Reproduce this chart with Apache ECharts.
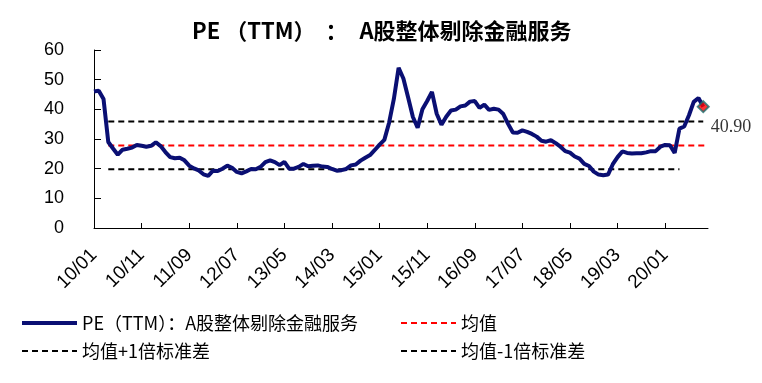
<!DOCTYPE html>
<html>
<head>
<meta charset="utf-8">
<script src="https://cdn.jsdelivr.net/npm/echarts@6/dist/echarts.min.js"></script>
<style>html,body{margin:0;padding:0;background:#fff;}#c{width:762px;height:383px;}</style>
</head>
<body>
<div id="c"></div>
<script>
// Categories: monthly from 2010/01 to 2020/10
const categories = [];
for (let y = 10; y <= 20; y++) {
  for (let m = 1; m <= 12; m++) {
    if (y === 20 && m > 10) break;
    categories.push(String(y).padStart(2, '0') + '/' + String(m).padStart(2, '0'));
  }
}

const peValues = [
  46.0, 46.3, 43.5, 29.0, 26.8, 24.7, 26.4, 26.7, 27.1, 28.0,
  27.7, 27.4, 27.7, 28.9, 27.6, 25.6, 23.9, 23.5, 23.7, 22.8,
  21.0, 20.1, 19.4, 18.1, 17.6, 19.3, 19.2, 20.0, 21.0, 20.3,
  18.9, 18.4, 19.1, 19.9, 19.8, 20.6, 22.2, 22.8, 22.2, 21.2,
  22.3, 20.0, 20.0, 20.6, 21.6, 20.8, 21.0, 21.1, 20.7, 20.6,
  19.9, 19.3, 19.5, 19.9, 21.1, 21.4, 22.7, 23.7, 24.6, 26.3,
  28.1, 29.7, 35.5, 43.5, 54.0, 50.4, 44.0, 37.4, 33.8, 40.0,
  42.8, 45.9, 38.5, 34.8, 37.5, 39.6, 39.9, 41.0, 41.3, 42.6,
  42.8, 40.5, 41.6, 39.8, 40.2, 39.9, 38.4, 35.1, 32.2, 32.1,
  32.9, 32.4, 31.7, 30.8, 29.4, 29.1, 29.6, 28.6, 27.4, 25.9,
  25.4, 24.1, 23.4, 21.6, 20.9, 19.0, 18.0, 17.8, 18.0, 21.5,
  23.9, 25.8, 25.3, 25.1, 25.2, 25.2, 25.5, 25.9, 25.9, 27.4,
  28.0, 27.9, 25.3, 33.5, 34.2, 38.0, 42.5, 43.8, 40.9
];

const meanValue = 27.8;
const upperValue = 35.9;
const lowerValue = 19.8;
// index ranges over which the reference lines are drawn
const meanRange = [3, 129];
const upperRange = [3, 128];
const lowerRange = [3, 123];

const yTicks = [0, 10, 20, 30, 40, 50, 60];

const nameMain = 'PE（TTM）：A股整体剔除金融服务';
const nameMean = '均值';
const nameUpper = '均值+1倍标准差';
const nameLower = '均值-1倍标准差';
const lastLabel = '40.90';
// title pieces (same text as nameMain, split for spacing)
const titleParts = ['PE', '（TTM）', '：', 'A股整体剔除金融服务'];

function flatLine(v, range) {
  return categories.map((c, i) => (i >= range[0] && i <= range[1]) ? v : null);
}
const lastIdx = peValues.length - 1;
const lastPoint = categories.map((c, i) => i === lastIdx ? peValues[lastIdx] : null);

const cjk = '"Noto Sans CJK SC", "Noto Sans", sans-serif';
const latin = '"Liberation Sans", Arial, sans-serif';

const legendCommon = {
  orient: 'vertical', top: 313, padding: 0,
  itemWidth: 55, itemHeight: 14, itemGap: 8,
  itemStyle: {color: 'rgba(0,0,0,0)', borderColor: 'rgba(0,0,0,0)', borderWidth: 0, opacity: 0},
  textStyle: {fontFamily: cjk, fontSize: 18, lineHeight: 20, color: '#000'}
};

const tStyle = {fontFamily: cjk, fontSize: 22, fontWeight: 'bold', color: '#000'};

const chart = echarts.init(document.getElementById('c'), null, {renderer: 'canvas'});
chart.setOption({
  animation: false,
  backgroundColor: '#ffffff',
  title: {
    text: '{a|' + titleParts[0] + '}{b|' + titleParts[1] + '}{c|' + titleParts[2] + '}{a|' + titleParts[3] + '}',
    left: 192, top: 20,
    padding: 0,
    textStyle: Object.assign({
      rich: {
        a: Object.assign({}, tStyle),
        b: Object.assign({padding: [0, 2, 0, 5]}, tStyle),
        c: Object.assign({padding: [0, 12, 0, 8]}, tStyle)
      }
    }, tStyle)
  },
  legend: [
    Object.assign({data: [{name: nameMain, lineStyle: {width: 4}}, nameUpper], left: 20}, legendCommon),
    Object.assign({data: [nameMean, nameLower], left: 400}, legendCommon)
  ],
  grid: {left: 94, right: 54, top: 50, bottom: 155, containLabel: false},
  xAxis: {
    type: 'category',
    data: categories,
    boundaryGap: false,
    axisLine: {lineStyle: {color: '#000', width: 1}},
    axisTick: {show: true, inside: true, length: 5, interval: 9, lineStyle: {color: '#000'}},
    axisLabel: {interval: 9, rotate: 45, margin: 24, fontFamily: latin, fontSize: 19, color: '#000'},
    splitLine: {show: false}
  },
  yAxis: {
    type: 'value',
    min: yTicks[0], max: yTicks[yTicks.length - 1], interval: 10,
    axisLine: {show: true, lineStyle: {color: '#000', width: 1}},
    axisTick: {show: true, inside: true, length: 7, lineStyle: {color: '#000'}},
    axisLabel: {margin: 30, fontFamily: latin, fontSize: 18, color: '#000', padding: [5, 0, 0, 0]},
    splitLine: {show: false}
  },
  series: [
    {
      name: nameMain, type: 'line', data: peValues,
      symbol: 'none', z: 5,
      lineStyle: {color: '#0a0f73', width: 4},
      itemStyle: {color: '#0a0f73'}
    },
    {
      name: nameMean, type: 'line', data: flatLine(meanValue, meanRange),
      symbol: 'none', z: 3,
      lineStyle: {color: '#ff0000', width: 2, type: [6, 4]},
      itemStyle: {color: '#ff0000'}
    },
    {
      name: nameUpper, type: 'line', data: flatLine(upperValue, upperRange),
      symbol: 'none', z: 3,
      lineStyle: {color: '#000', width: 2, type: [6, 4]},
      itemStyle: {color: '#000'}
    },
    {
      name: nameLower, type: 'line', data: flatLine(lowerValue, lowerRange),
      symbol: 'none', z: 3,
      lineStyle: {color: '#000', width: 2, type: [6, 4]},
      itemStyle: {color: '#000'}
    },
    {
      name: 'last', type: 'scatter', data: lastPoint,
      symbol: 'diamond', symbolSize: 11, z: 10,
      itemStyle: {color: '#ff0000', borderColor: '#1d6e6e', borderWidth: 2},
      label: {
        show: true, position: 'right', distance: 1, offset: [0, 21],
        formatter: lastLabel,
        fontFamily: '"Liberation Serif", "DejaVu Serif", serif', fontSize: 18, color: '#000'
      }
    }
  ]
});
</script>
</body>
</html>
